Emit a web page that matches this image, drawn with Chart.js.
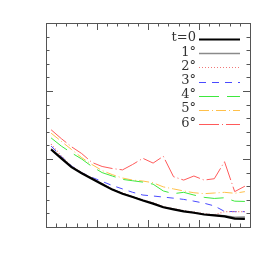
<!DOCTYPE html>
<html>
<head>
<meta charset="utf-8">
<script src="https://cdn.jsdelivr.net/npm/chart.js@4/dist/chart.umd.min.js"></script>
<style>
  body { margin: 0; background: #fff; }
  canvas { display: block; }
</style>
</head>
<body>
<canvas id="chart" width="273" height="273"></canvas>
<script>
// x positions (centres of the 20 bins)
let xs = [0.5, 1.5, 2.5, 3.5, 4.5, 5.5, 6.5, 7.5, 8.5, 9.5, 10.5, 11.5, 12.5, 13.5, 14.5, 15.5, 16.5, 17.5, 18.5, 19.5];

let names = ["t=0", "1°", "2°", "3°", "4°", "5°", "6°"];

let t0 = [5.7, 5.05, 4.4, 3.95, 3.55, 3.15, 2.75, 2.45, 2.2, 1.95, 1.72, 1.45, 1.3, 1.15, 1.05, 0.92, 0.85, 0.78, 0.62, 0.6];
let d1 = [5.75, 5.1, 4.45, 3.97, 3.57, 3.17, 2.77, 2.47, 2.22, 1.97, 1.74, 1.47, 1.32, 1.17, 1.07, 0.95, 0.88, 0.84, 0.72, 0.74];
let d2 = [6.1, 5.2, 4.47, 4.0, 3.6, 3.2, 2.8, 2.5, 2.25, 2.0, 1.77, 1.5, 1.35, 1.2, 1.1, 0.98, 0.9, 1.13, 1.13, 1.13];
let d3 = [5.95, 5.2, 4.5, 4.0, 3.65, 3.35, 3.05, 2.8, 2.55, 2.35, 2.28, 2.2, 2.12, 2.03, 1.9, 1.75, 1.55, 1.15, 1.13, 1.13];
let d4 = [6.55, 5.95, 5.45, 5.0, 4.45, 4.0, 3.75, 3.5, 3.4, 3.3, 3.15, 2.65, 2.45, 2.55, 2.35, 2.18, 2.1, 2.15, 1.9, 1.88];
let d5 = [6.9, 6.3, 5.7, 5.1, 4.6, 4.15, 3.85, 3.6, 3.45, 3.38, 3.25, 2.95, 2.8, 2.65, 2.52, 2.45, 2.5, 2.55, 2.48, 2.6];
let d6 = [7.15, 6.5, 5.9, 5.4, 4.75, 4.45, 4.3, 4.2, 4.6, 5.05, 4.7, 5.2, 3.7, 3.45, 3.75, 3.45, 3.55, 4.8, 2.6, 3.0];

let series = [t0, d1, d2, d3, d4, d5, d6];
let colors = ["#000000", "#8a8a8a", "#f07878", "#4a4aff", "#3ee83e", "#ffc04a", "#ff5a5a"];
let widths = [2.2, 1.4, 1.2, 1, 1, 1, 1];
let dashes = [[], [], [1, 2], [7, 6], [20, 8], [10, 3, 1, 3], [20, 3, 1, 3]];

function toPoints(arr) {
  return arr.map((v, i) => ({ x: xs[i], y: v }));
}

// box with inward ticks
const framePlugin = {
  id: "frame",
  afterDraw(chart) {
    let ctx = chart.ctx, a = chart.chartArea;
    let x = chart.scales.x, y = chart.scales.y;
    ctx.save();
    ctx.strokeStyle = "#555";
    ctx.lineWidth = 1;
    ctx.strokeRect(a.left + 0.5, a.top + 0.5, a.right - a.left, a.bottom - a.top);
    ctx.beginPath();
    for (let v = 1; v < 20; v++) {
      let px = Math.round(x.getPixelForValue(v)) + 0.5;
      let len = v % 5 ? 3.5 : 7;
      ctx.moveTo(px, a.top); ctx.lineTo(px, a.top + len);
      ctx.moveTo(px, a.bottom); ctx.lineTo(px, a.bottom - len);
    }
    for (let v = 1; v < 15; v++) {
      let py = Math.round(y.getPixelForValue(v)) + 0.5;
      let len = v % 5 ? 3.5 : 7;
      ctx.moveTo(a.left, py); ctx.lineTo(a.left + len, py);
      ctx.moveTo(a.right, py); ctx.lineTo(a.right - len, py);
    }
    ctx.stroke();
    ctx.restore();
  }
};

// legend inside top right
const keyPlugin = {
  id: "key",
  afterDraw(chart) {
    let ctx = chart.ctx, a = chart.chartArea;
    ctx.save();
    ctx.font = "13px 'DejaVu Serif', serif";
    ctx.textAlign = "right";
    ctx.textBaseline = "middle";
    chart.data.datasets.forEach((ds, i) => {
      let yy = a.top + 16 + i * 14.2;
      ctx.fillStyle = "#333";
      ctx.fillText(ds.label, 196, yy - 1);
      ctx.strokeStyle = ds.borderColor;
      ctx.lineWidth = ds.borderWidth;
      ctx.setLineDash(ds.borderDash);
      ctx.beginPath();
      ctx.moveTo(199, Math.round(yy) + 0.5);
      ctx.lineTo(240, Math.round(yy) + 0.5);
      ctx.stroke();
    });
    ctx.restore();
  }
};

new Chart(document.getElementById("chart"), {
  type: "line",
  data: {
    datasets: series.map((s, i) => ({
      label: names[i],
      data: toPoints(s),
      borderColor: colors[i],
      borderWidth: widths[i],
      borderDash: dashes[i],
      pointRadius: 0,
      tension: 0,
      fill: false
    }))
  },
  options: {
    responsive: false,
    animation: false,
    layout: { padding: { left: 46, top: 23, right: 23, bottom: 46 } },
    plugins: { legend: { display: false }, tooltip: { enabled: false } },
    scales: {
      x: { type: "linear", min: 0, max: 20, display: false },
      y: { type: "linear", min: 0, max: 15, display: false }
    }
  },
  plugins: [framePlugin, keyPlugin]
});
</script>
</body>
</html>
